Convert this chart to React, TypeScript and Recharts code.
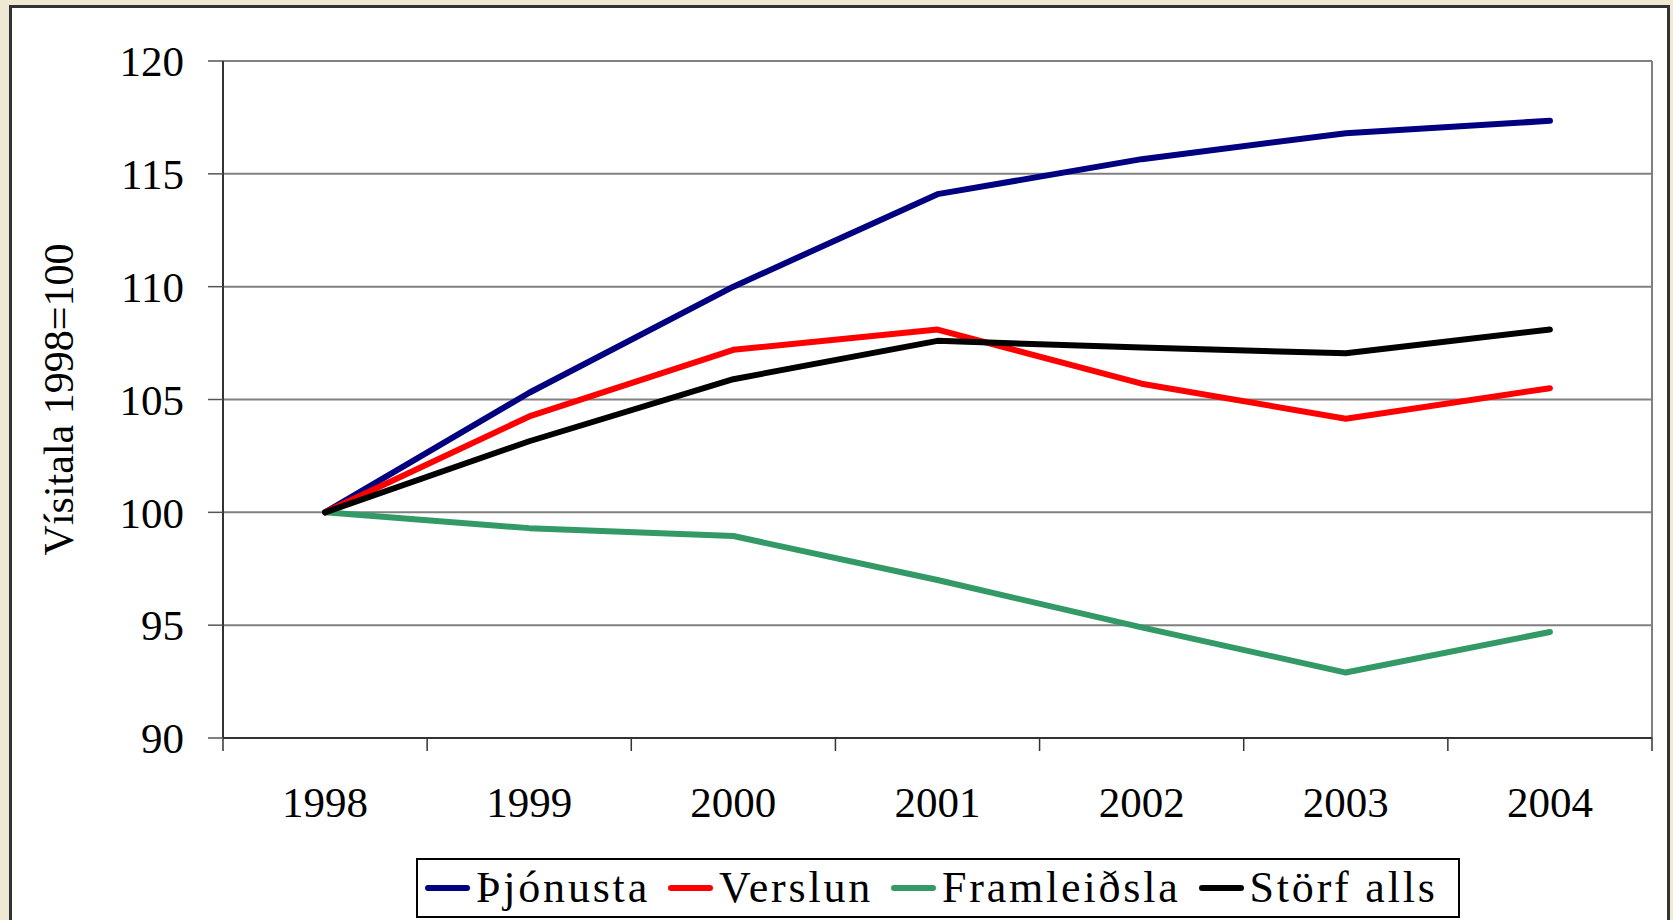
import React from 'react';
import {
  LineChart,
  Line,
  XAxis,
  YAxis,
  CartesianGrid,
  Legend,
  ReferenceLine
} from 'recharts';

const years = ['1998', '1999', '2000', '2001', '2002', '2003', '2004'];
const thjonusta = [100, 105.3, 110.0, 114.1, 115.65, 116.8, 117.35];
const verslun = [100, 104.25, 107.2, 108.1, 105.7, 104.15, 105.5];
const framleidsla = [100, 99.3, 98.95, 97.0, 94.9, 92.9, 94.7];
const storfAlls = [100, 103.15, 105.9, 107.6, 107.3, 107.05, 108.1];
const yTicks = [90, 95, 100, 105, 110, 115, 120];

const series = [
  { key: 'thjonusta', name: 'Þjónusta', color: '#000080', values: thjonusta },
  { key: 'verslun', name: 'Verslun', color: '#FF0000', values: verslun },
  { key: 'framleidsla', name: 'Framleiðsla', color: '#339966', values: framleidsla },
  { key: 'storf', name: 'Störf alls', color: '#000000', values: storfAlls }
];

// each year sits in the middle of its slot on a 0..7 axis
const data = years.map((year, i) => {
  const row: Record<string, number | string> = { year, x: i + 0.5 };
  series.forEach(s => { row[s.key] = s.values[i]; });
  return row;
});

const W = 1673;
const H = 920;
const PLOT_LEFT = 223;
const PLOT_RIGHT = 1652;
const BAND = (PLOT_RIGHT - PLOT_LEFT) / years.length;
const FONT = '"Liberation Serif", "Times New Roman", serif';

function XTick(props: any) {
  const { x, y, payload } = props;
  const i = payload.value;
  if (i >= years.length) return <g />;
  return (
    <text x={x + BAND / 2} y={y + 66} textAnchor="middle" fontFamily={FONT} fontSize={43} fill="#000">
      {years[i]}
    </text>
  );
}

function YLabel(props: any) {
  const { viewBox } = props;
  const cx = viewBox.x - 4;
  const cy = viewBox.y + viewBox.height / 2;
  return (
    <text
      x={cx}
      y={cy}
      transform={`rotate(-90 ${cx} ${cy})`}
      textAnchor="middle"
      dominantBaseline="central"
      fontFamily={FONT}
      fontSize={42}
      fill="#000"
    >
      Vísitala 1998=100
    </text>
  );
}

function LegendBox() {
  return (
    <div
      style={{
        boxSizing: 'border-box',
        width: 1044,
        height: 60,
        border: '2px solid #000',
        background: '#fff',
        display: 'flex',
        alignItems: 'center',
        paddingLeft: 7,
        fontFamily: FONT,
        fontSize: 44,
        letterSpacing: 2.8,
        whiteSpace: 'nowrap',
        overflow: 'hidden',
        color: '#000'
      }}
    >
      {series.map(s => (
        <div key={s.key} style={{ display: 'flex', alignItems: 'center', marginRight: 18, flexShrink: 0 }}>
          <div style={{ width: 45, height: 6, borderRadius: 3, background: s.color, marginRight: 6 }} />
          <span style={{ lineHeight: '56px', whiteSpace: 'nowrap' }}>{s.name}</span>
        </div>
      ))}
    </div>
  );
}

export default function App() {
  return (
    <div style={{ position: 'absolute', left: 0, top: 0, width: W, height: H, background: '#EFE9D3', overflow: 'hidden' }}>
      <div
        style={{
          position: 'absolute',
          left: 9,
          top: 5,
          width: 1661,
          height: 940,
          boxSizing: 'border-box',
          border: '3px solid #333',
          background: '#fff'
        }}
      />
      <div style={{ position: 'absolute', left: 0, top: 0 }}>
        <LineChart width={W} height={H} data={data} margin={{ top: 61, right: W - PLOT_RIGHT, bottom: 122, left: 63 }}>
          <CartesianGrid vertical={false} stroke="#808080" strokeWidth={2} />
          <XAxis
            dataKey="x"
            type="number"
            domain={[0, 7]}
            ticks={[0, 1, 2, 3, 4, 5, 6, 7]}
            interval={0}
            height={60}
            tickSize={13}
            tickMargin={0}
            tickLine={{ stroke: '#333', strokeWidth: 1.5 }}
            axisLine={{ stroke: '#333', strokeWidth: 2 }}
            tick={<XTick />}
          />
          <YAxis
            type="number"
            domain={[90, 120]}
            ticks={yTicks}
            interval={0}
            width={160}
            tickSize={15}
            tickMargin={24}
            tickLine={{ stroke: '#555', strokeWidth: 1.5 }}
            axisLine={{ stroke: '#333', strokeWidth: 2 }}
            tick={{ fill: '#000', fontFamily: FONT, fontSize: 43 }}
            label={<YLabel />}
          />
          <ReferenceLine x={7} stroke="#808080" strokeWidth={2} />
          {series.map(s => (
            <Line
              key={s.key}
              dataKey={s.key}
              name={s.name}
              type="linear"
              stroke={s.color}
              strokeWidth={6}
              strokeLinecap="round"
              strokeLinejoin="round"
              dot={false}
              isAnimationActive={false}
            />
          ))}
          <Legend
            layout="horizontal"
            verticalAlign="middle"
            align="center"
            content={<LegendBox />}
            wrapperStyle={{ left: 416, top: 858, width: 1044, height: 60 }}
          />
        </LineChart>
      </div>
    </div>
  );
}
